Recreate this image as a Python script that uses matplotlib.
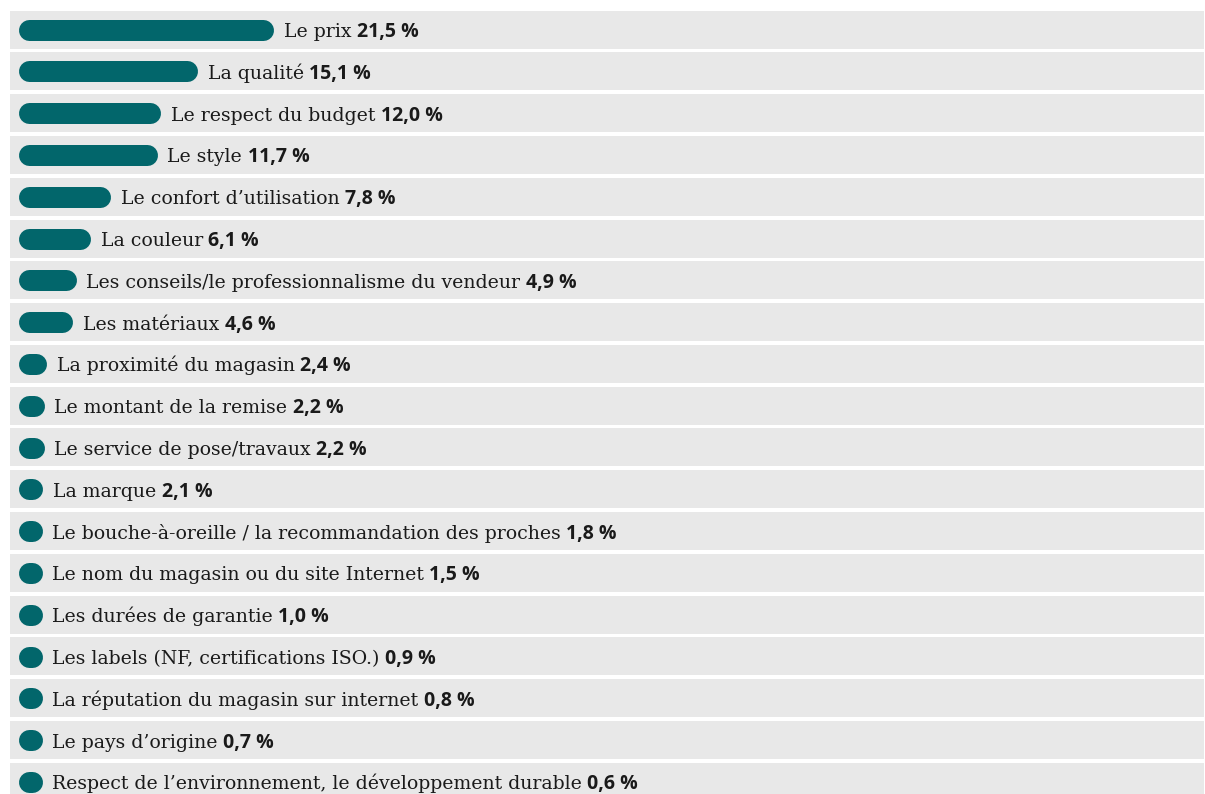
import matplotlib
matplotlib.use("Agg")
import matplotlib.pyplot as plt

# critères de choix (%)
labels = [
    "Le prix",
    "La qualité",
    "Le respect du budget",
    "Le style",
    "Le confort d\u2019utilisation",
    "La couleur",
    "Les conseils/le professionnalisme du vendeur",
    "Les matériaux",
    "La proximité du magasin",
    "Le montant de la remise",
    "Le service de pose/travaux",
    "La marque",
    "Le bouche-à-oreille / la recommandation des proches",
    "Le nom du magasin ou du site Internet",
    "Les durées de garantie",
    "Les labels (NF, certifications ISO.)",
    "La réputation du magasin sur internet",
    "Le pays d\u2019origine",
    "Respect de l\u2019environnement, le développement durable",
]
values = [21.5, 15.1, 12.0, 11.7, 7.8, 6.1, 4.9, 4.6, 2.4, 2.2, 2.2, 2.1,
          1.8, 1.5, 1.0, 0.9, 0.8, 0.7, 0.6]
value_labels = ["%.1f %%" % v for v in values]
value_labels = [s.replace(".", ",") for s in value_labels]

teal = "#02666b"
band = "#e8e8e8"
ink = "#1a1a1a"

W, H = 1205, 794
px_pct = 11.9      # pixels par point de %
x0 = 18            # début des barres (px)
pitch = 41.8       # pas des lignes (px)
y0 = 29.5          # centre de la 1re ligne (px)

fig = plt.figure(figsize=(W / 100, H / 100), dpi=100)
ax = fig.add_axes([0, 0, 1, 1])
ax.set_xlim(-x0 / px_pct, (W - x0) / px_pct)
ax.set_ylim((H - y0) / pitch, -y0 / pitch)
ax.axis("off")

rows = range(len(values))
band_left = (10 - x0) / px_pct
band_right = (1204 - x0) / px_pct
ax.barh(list(rows), band_right - band_left, left=band_left, height=38 / pitch,
        color=band, zorder=0)

cap = 10.5 / px_pct          # rayon de l'arrondi en unités de %
min_len = 24 / px_pct
for i, (lab, v, vl) in enumerate(zip(labels, values, value_labels)):
    L = max(v, min_len)
    ax.plot([cap, L - cap], [i, i], color=teal, lw=21 * 0.72,
            solid_capstyle="round", zorder=2)
    t = ax.annotate(lab, xy=(L, i + 7.5 / pitch), xytext=(7.2, 0),
                    textcoords="offset points", va="baseline", ha="left",
                    fontsize=13.6, family="DejaVu Serif", color=ink)
    ax.annotate(vl, xy=(1, i + 7.5 / pitch), xycoords=(t, "data"),
                xytext=(4, 0), textcoords="offset points",
                va="baseline", ha="left", fontsize=14,
                family="Open Sans", fontweight="bold", color=ink)

fig.savefig("out.png", dpi=100)
